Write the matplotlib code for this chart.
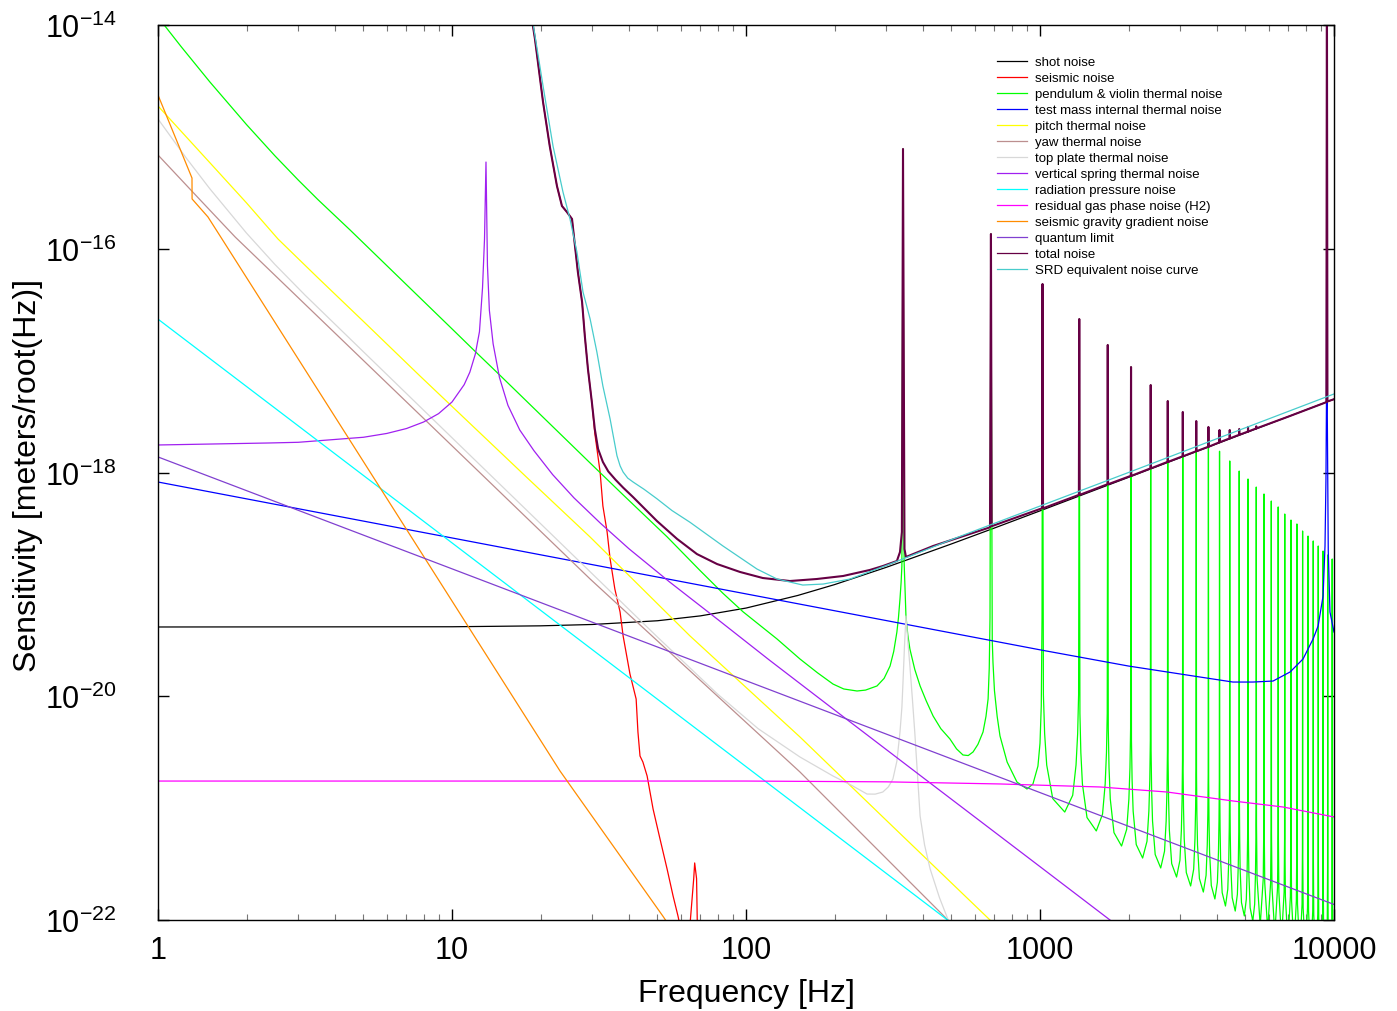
import numpy as np
import matplotlib
matplotlib.use("Agg")
import matplotlib.pyplot as plt
from matplotlib.ticker import FixedLocator, FixedFormatter, NullLocator

plt.rcParams['font.family'] = ['Liberation Sans', 'DejaVu Sans']
plt.rcParams['mathtext.default'] = 'regular'

# ---------------- data: (frequency [Hz], log10 of sensitivity [m/rtHz]) ----------------
shot_f = [1, 10, 20, 30, 50, 70, 100, 150, 200, 300, 500, 700, 1000, 2000, 5000, 10000]
shot_h = [4.16e-20, 4.18e-20, 4.26e-20, 4.38e-20, 4.73e-20, 5.23e-20, 6.14e-20, 7.96e-20,
          9.95e-20, 1.42e-19, 2.30e-19, 3.19e-19, 4.54e-19, 9.05e-19, 2.26e-18, 4.52e-18]

seismic_pts = [(17.6, -13.5), (18.85, -14.009), (19.15, -14.125), (20.4, -14.688), (21.5, -15.082),
               (22.75, -15.439), (23.66, -15.618), (24.6, -15.672), (25.6, -15.734), (26.2, -15.975),
               (26.8, -16.208), (27.7, -16.476), (28.3, -16.780), (29.0, -17.075), (29.9, -17.370),
               (30.6, -17.65), (31.9, -17.996), (32.6, -18.299), (33.7, -18.532), (34.5, -18.773),
               (35.8, -19.041), (37.3, -19.247), (38.2, -19.461), (40.3, -19.801), (42.3, -20.025),
               (42.9, -20.320), (43.6, -20.534), (44.6, -20.588), (46.1, -20.713), (48.3, -21.008),
               (51.0, -21.276), (53.9, -21.544), (56.5, -21.786), (58.7, -21.964), (61.0, -22.17),
               (63.0, -22.4), (64.5, -22.04), (66.4, -21.63), (66.9, -21.49), (67.9, -21.63),
               (68.3, -22.04), (70.0, -22.6), (100.0, -24.0)]

pendulum_pts = [
    (1.0, -13.928), (1.056, -14.009), (1.2, -14.195), (1.5, -14.508), (2.0, -14.890),
    (2.5, -15.170), (3.0, -15.386), (3.5, -15.561), (4.5, -15.832), (6.0, -16.15),
    (7.78, -16.438), (10.0, -16.716), (11.97, -16.916), (14.56, -17.131), (19.92, -17.479),
    (29.5, -17.915), (38.2, -18.200), (53.9, -18.575), (69.7, -18.875), (83.5, -19.08),
    (97.7, -19.245), (127.5, -19.488), (152.6, -19.667), (175, -19.79), (197.7, -19.891),
    (215, -19.935), (238.6, -19.953), (255, -19.945), (279, -19.908), (295, -19.84),
    (309, -19.730), (318, -19.60), (326, -19.426), (330, -19.30), (334, -19.131),
    (337, -18.98), (339, -18.836), (342, -15.108),
    (345, -18.8), (350, -19.283), (355, -19.45), (361, -19.578), (375, -19.76), (391, -19.908),
    (410, -20.04), (433, -20.177), (460, -20.29), (494, -20.382), (520, -20.47), (547, -20.525),
    (570, -20.53), (592, -20.498), (615, -20.43), (640, -20.320), (655, -20.18), (666, -20.024),
    (672, -19.75), (676, -19.3), (681, -15.868),
    (688, -19.5), (692, -19.7), (700, -19.95), (715, -20.18), (731, -20.355), (773, -20.588),
    (835, -20.767), (903, -20.829), (946, -20.785), (984, -20.624), (1000, -20.42),
    (1010, -20.087), (1016, -19.3), (1020, -16.315),
    (1027, -19.985), (1037, -20.335), (1054, -20.615), (1105, -20.915), (1214, -21.035),
    (1292, -20.885), (1326, -20.615), (1343, -20.335), (1353, -19.985), (1360, -16.628),
    (1367, -20.154), (1377, -20.504), (1394, -20.784), (1445, -21.084), (1554, -21.204),
    (1632, -21.054), (1666, -20.784), (1683, -20.504), (1693, -20.154), (1700, -16.860),
    (1707, -20.289), (1717, -20.639), (1734, -20.919), (1785, -21.219), (1894, -21.339),
    (1972, -21.189), (2006, -20.919), (2023, -20.639), (2033, -20.289), (2040, -17.057),
    (2047, -20.396), (2057, -20.746), (2074, -21.026), (2125, -21.326), (2234, -21.446),
    (2312, -21.296), (2346, -21.026), (2363, -20.746), (2373, -20.396), (2380, -17.218),
    (2387, -20.485), (2397, -20.835), (2414, -21.115), (2465, -21.415), (2574, -21.535),
    (2652, -21.385), (2686, -21.115), (2703, -20.835), (2713, -20.485), (2720, -17.361),
    (2727, -20.566), (2737, -20.916), (2754, -21.196), (2805, -21.496), (2914, -21.616),
    (2992, -21.466), (3026, -21.196), (3043, -20.916), (3053, -20.566), (3060, -17.497),
    (3067, -20.646), (3077, -20.996), (3094, -21.276), (3145, -21.576), (3254, -21.696),
    (3332, -21.546), (3366, -21.276), (3383, -20.996), (3393, -20.646), (3400, -17.613),
    (3407, -20.70), (3417, -21.05), (3434, -21.33), (3485, -21.63), (3594, -21.75),
    (3672, -21.60), (3706, -21.33), (3723, -21.05), (3733, -20.70), (3740, -17.72),
    (3747, -20.762), (3757, -21.112), (3774, -21.392), (3825, -21.692), (3934, -21.812),
    (4012, -21.662), (4046, -21.392), (4063, -21.112), (4073, -20.762), (4080, -17.81),
    (4087, -20.825), (4097, -21.175), (4114, -21.455), (4165, -21.755), (4274, -21.875),
    (4352, -21.725), (4386, -21.455), (4403, -21.175), (4413, -20.825), (4420, -17.897),
    (4427, -20.87), (4437, -21.22), (4454, -21.50), (4505, -21.80), (4614, -21.92),
    (4692, -21.77), (4726, -21.50), (4743, -21.22), (4753, -20.87), (4760, -17.987),
    (4767, -20.914), (4777, -21.264), (4794, -21.544), (4845, -21.844), (4954, -21.964),
    (5032, -21.814), (5066, -21.544), (5083, -21.264), (5093, -20.914), (5100, -18.058),
    (5107, -20.96), (5117, -21.31), (5134, -21.59), (5185, -21.89), (5294, -22.01),
    (5372, -21.86), (5406, -21.59), (5423, -21.31), (5433, -20.96), (5440, -18.130),
    (5450, -21.15), (5474, -21.63), (5610, -22.05), (5746, -21.63), (5770, -21.15), (5780, -18.192),
    (5790, -21.19), (5814, -21.67), (5950, -22.09), (6086, -21.67), (6110, -21.19), (6120, -18.255),
    (6130, -21.23), (6154, -21.71), (6290, -22.13), (6426, -21.71), (6450, -21.23), (6460, -18.308),
    (6470, -21.27), (6494, -21.75), (6630, -22.17), (6766, -21.75), (6790, -21.27), (6800, -18.371),
    (6810, -21.31), (6834, -21.79), (6970, -22.21), (7106, -21.79), (7130, -21.31), (7140, -18.425),
    (7150, -21.35), (7174, -21.83), (7310, -22.25), (7446, -21.83), (7470, -21.35), (7480, -18.460),
    (7490, -21.38), (7514, -21.86), (7650, -22.28), (7786, -21.86), (7810, -21.38), (7820, -18.523),
    (7830, -21.41), (7854, -21.89), (7990, -22.31), (8126, -21.89), (8150, -21.41), (8160, -18.568),
    (8170, -21.44), (8194, -21.92), (8330, -22.34), (8466, -21.92), (8490, -21.44), (8500, -18.612),
    (8510, -21.47), (8534, -21.95), (8670, -22.37), (8806, -21.95), (8830, -21.47), (8840, -18.657),
    (8850, -21.50), (8874, -21.98), (9010, -22.40), (9146, -21.98), (9170, -21.50), (9180, -18.702),
    (9190, -21.53), (9214, -22.01), (9350, -22.43), (9486, -22.01), (9510, -21.53), (9520, -18.737),
    (9530, -21.56), (9554, -22.04), (9690, -22.46), (9826, -22.04), (9850, -21.56), (9860, -18.773),
    (9870, -21.59), (9894, -22.07), (10000, -22.4)]

testmass_pts = [(1, -18.085), (10, -18.585), (100, -19.085), (1000, -19.585), (2000, -19.73),
                (3499, -19.828), (4530, -19.873), (5300, -19.873), (6205, -19.864), (7090, -19.783),
                (7846, -19.667), (8490, -19.488), (8830, -19.372), (9180, -19.104), (9320, -18.657),
                (9390, -18.058), (9430, -17.3), (9460, -13.5), (9490, -17.5), (9560, -18.7),
                (9690, -19.247), (10000, -19.426)]

pitch_pts = [(1, -14.724), (1.5, -15.23), (2.0, -15.59), (2.56, -15.913), (3.5, -16.26),
             (5.0, -16.65), (7.78, -17.137), (17.9, -18.040), (29.5, -18.577), (64.5, -19.461),
             (152.6, -20.364), (292, -21.079), (676, -22.0), (1000, -22.43)]

yaw_pts = [(1, -15.162), (1.35, -15.527), (1.83, -15.895), (7.78, -17.485), (29.5, -18.952),
           (152.6, -20.677), (486, -22.0), (1000, -22.82)]

topplate_pts = [(1, -14.840), (1.25, -15.192), (1.5, -15.463), (2.0, -15.860), (2.5, -16.141),
                (3.162, -16.414), (13.8, -18.046), (29.5, -18.887), (49.8, -19.467), (80, -19.98),
                (110, -20.29), (152.6, -20.543), (197.7, -20.713), (230, -20.80), (258, -20.874),
                (275, -20.875), (292, -20.856), (305, -20.81), (316, -20.740), (326, -20.58),
                (334, -20.320), (339, -20.10), (342, -19.873), (346, -19.55), (350, -19.283),
                (355, -19.50), (361, -19.730), (368, -20.02), (375, -20.320), (383, -20.70),
                (391, -21.070), (405, -21.33), (423, -21.544), (455, -21.80), (494, -22.04),
                (700, -23.0)]

vspring_pts = [(1, -17.754), (2.4, -17.736), (3, -17.730), (5, -17.685), (6, -17.651),
               (7, -17.607), (8, -17.549), (9, -17.474), (10, -17.370), (11, -17.215),
               (11.5, -17.103), (12, -16.943), (12.4, -16.741), (12.7, -16.35), (12.9, -15.913),
               (13.05, -15.225), (13.2, -16.15), (13.4, -16.55), (13.8, -16.85), (14.5, -17.15),
               (15.5, -17.40), (17, -17.62), (19, -17.805), (22, -18.019), (26, -18.227),
               (32, -18.454), (40, -18.682), (55, -18.979), (80, -19.312), (120, -19.676),
               (200, -20.123), (400, -20.727), (1000, -21.523), (1730, -22.0), (3000, -22.477)]

radpress_pts = [(1, -16.629), (10, -18.629), (100, -20.629), (1000, -22.629)]

gas_pts = [(1, -20.758), (100, -20.758), (300, -20.765), (731, -20.784), (1600, -20.811),
           (2704, -20.856), (4530, -20.936), (6710, -20.990), (10000, -21.079)]

gg_pts = [(1, -14.626), (1.305, -15.368), (1.306, -15.555), (1.479, -15.716), (1.651, -15.913),
          (23.3, -20.668), (52.4, -21.973), (100, -23.1)]

quantum_pts = [(1, -17.861), (10000, -21.861)]

total_pts = [
    (17.6, -13.5), (18.85, -14.009), (19.15, -14.125), (20.4, -14.688), (21.5, -15.082),
    (22.75, -15.439), (23.66, -15.618), (24.6, -15.672), (25.6, -15.734), (26.2, -15.975),
    (26.8, -16.208), (27.7, -16.476), (28.3, -16.780), (29.0, -17.075), (29.9, -17.370),
    (30.6, -17.611), (31.4, -17.790), (32.6, -17.906), (34.0, -17.99), (36.0, -18.065),
    (38.2, -18.135), (41.3, -18.22), (43.6, -18.282), (49.8, -18.434), (58.3, -18.594),
    (68.1, -18.729), (79.7, -18.818), (95.4, -18.889), (114, -18.943), (141, -18.970),
    (174, -18.952), (214, -18.925), (264, -18.871), (292, -18.836), (326, -18.791),
    (334, -18.711), (339, -18.532), (342, -15.108), (346, -18.684), (350, -18.755),
    (433, -18.657), (676, -18.49),
    (681, -15.868), (685, -18.48), (1016, -18.32), (1020, -16.315), (1024, -18.32),
    (1356, -18.20), (1360, -16.628), (1364, -18.20), (1696, -18.105), (1700, -16.860),
    (1704, -18.105), (2036, -18.03), (2040, -17.057), (2044, -18.03), (2376, -17.963),
    (2380, -17.218), (2384, -17.963), (2716, -17.905), (2720, -17.361), (2724, -17.905),
    (3056, -17.855), (3060, -17.459), (3064, -17.855), (3396, -17.81), (3400, -17.540),
    (3404, -17.81), (3736, -17.77), (3740, -17.593), (3744, -17.77), (4076, -17.73),
    (4080, -17.620), (4084, -17.73), (4416, -17.695), (4420, -17.620), (4424, -17.695),
    (4756, -17.663), (4760, -17.611), (4764, -17.663), (5096, -17.634), (5100, -17.593),
    (5104, -17.634), (5436, -17.606), (5440, -17.587), (5444, -17.606), (7000, -17.50),
    (9300, -17.377), (9420, -17.37), (9460, -13.5), (9500, -17.365), (10000, -17.345)]

srd_pts = [(18.0, -13.6), (18.9, -14.0), (20.4, -14.545), (22.06, -15.082), (23.85, -15.493),
           (25.2, -15.734), (26.6, -16.029), (27.9, -16.387), (29.5, -16.628), (31.1, -16.923),
           (32.6, -17.227), (34.5, -17.522), (36.4, -17.85), (37.3, -17.94), (38.2, -17.996),
           (39.6, -18.05), (41.3, -18.085), (45.0, -18.15), (49.8, -18.235), (56.0, -18.34),
           (64.5, -18.445), (83.5, -18.657), (109, -18.863), (127.5, -18.952), (156, -19.006),
           (183, -18.997), (226, -18.952), (309, -18.818), (500, -18.60), (1000, -18.30),
           (2000, -18.0), (5000, -17.60), (10000, -17.298)]

x_ticks = [1, 10, 100, 1000, 10000]
x_ticklabels = ['1', '10', '100', '1000', '10000']
y_ticks = [1e-22, 1e-20, 1e-18, 1e-16, 1e-14]
y_ticklabels = [r'$10^{-22}$', r'$10^{-20}$', r'$10^{-18}$', r'$10^{-16}$', r'$10^{-14}$']

# ---------------- figure ----------------
fig = plt.figure(figsize=(13.97, 10.12), dpi=100)
ax = fig.add_axes([158 / 1397, 91 / 1012, 1176 / 1397, 895 / 1012])


def pts(p):
    a = np.array(p, dtype=float)
    return a[:, 0], 10 ** a[:, 1]


lw = 0.9
ax.loglog(shot_f, shot_h, color='black', lw=lw, label='shot noise')
ax.loglog(*pts(seismic_pts), color='#ff0000', lw=lw, label='seismic noise')
ax.loglog(*pts(pendulum_pts), color='#00ff00', lw=lw, label='pendulum & violin thermal noise')
ax.loglog(*pts(testmass_pts), color='#0000ff', lw=lw, label='test mass internal thermal noise')
ax.loglog(*pts(pitch_pts), color='#ffff00', lw=lw, label='pitch thermal noise')
ax.loglog(*pts(yaw_pts), color='#bc8f8f', lw=lw, label='yaw thermal noise')
ax.loglog(*pts(topplate_pts), color='#d8d8d8', lw=lw, label='top plate thermal noise')
ax.loglog(*pts(vspring_pts), color='#a020f0', lw=lw, label='vertical spring thermal noise')
ax.loglog(*pts(radpress_pts), color='#00ffff', lw=lw, label='radiation pressure noise')
ax.loglog(*pts(gas_pts), color='#ff00ff', lw=lw, label='residual gas phase noise (H2)')
ax.loglog(*pts(gg_pts), color='#ff8c00', lw=lw, label='seismic gravity gradient noise')
ax.loglog(*pts(quantum_pts), color='#8040d0', lw=lw, label='quantum limit')
ax.loglog(*pts(total_pts), color='#660044', lw=1.5, label='total noise')
ax.loglog(*pts(srd_pts), color='#48cccc', lw=lw, label='SRD equivalent noise curve')

ax.set_xlim(1, 10000)
ax.set_ylim(1e-22, 1e-14)

ax.xaxis.set_major_locator(FixedLocator(x_ticks))
ax.xaxis.set_major_formatter(FixedFormatter(x_ticklabels))
ax.yaxis.set_major_locator(FixedLocator(y_ticks))
ax.yaxis.set_major_formatter(FixedFormatter(y_ticklabels))
ax.yaxis.set_minor_locator(NullLocator())

ax.tick_params(which='both', direction='in', top=True, right=True)
ax.tick_params(which='major', length=8, width=1, labelsize=22)
ax.tick_params(axis='x', which='major', pad=11)
ax.tick_params(axis='y', which='major', pad=30)
ax.tick_params(which='minor', length=4, width=0.8, color='#777777')
for s in ax.spines.values():
    s.set_linewidth(1.0)

ax.set_xlabel('Frequency [Hz]', fontsize=23)
ax.set_ylabel('Sensitivity [meters/root(Hz)]', fontsize=23)
ax.xaxis.set_label_coords(0.5, -0.065)
ax.yaxis.set_label_coords(-0.098, 0.498)

leg = ax.legend(loc='upper left', bbox_to_anchor=(997 / 1397, 1 - 57 / 1012),
                bbox_transform=fig.transFigure, frameon=False, fontsize=9.5,
                labelspacing=0.285, handlelength=2.3, handletextpad=0.55,
                borderpad=0, borderaxespad=0)
for h in leg.get_lines():
    h.set_linewidth(0.9)

fig.savefig('out.png', dpi=100)
